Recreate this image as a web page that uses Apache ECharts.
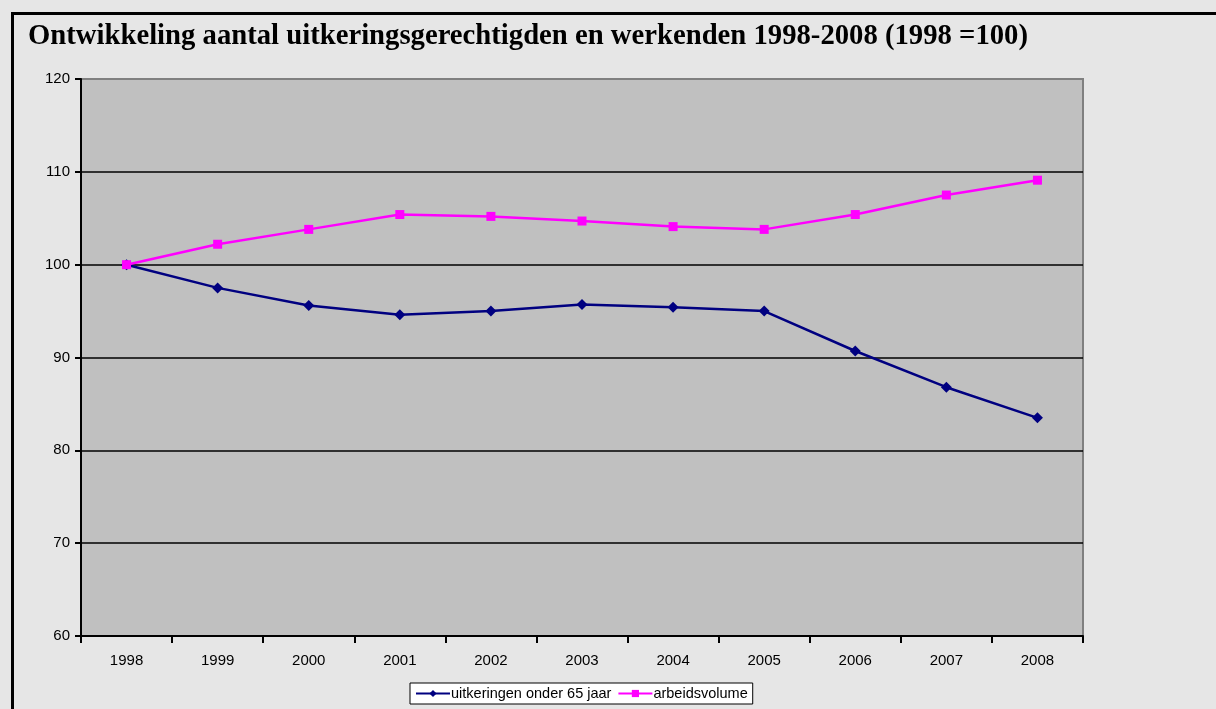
<!DOCTYPE html>
<html style="height: 100%">
<head>
	<meta charset="utf-8">
	<script src="https://cdn.jsdelivr.net/npm/echarts@6/dist/echarts.min.js"></script>
	<style>
		body { margin: 0; background: #e6e6e6; }
		#chart { width: 1216px; height: 709px; }
	</style>
</head>
<body>
	<div id="chart"></div>
	<script>
		// jaren en indexcijfers (1998 = 100)
		var years = ['1998', '1999', '2000', '2001', '2002', '2003', '2004', '2005', '2006', '2007', '2008'];
		var uitkeringen = [100, 97.5, 95.6, 94.6, 95.0, 95.7, 95.4, 95.0, 90.7, 86.8, 83.5];
		var arbeidsvolume = [100, 102.2, 103.8, 105.4, 105.2, 104.7, 104.1, 103.8, 105.4, 107.5, 109.1];
		var titleText = 'Ontwikkeling aantal uitkeringsgerechtigden en werkenden 1998-2008 (1998 =100)';

		var myChart = echarts.init(document.getElementById('chart'));

		var option = {
			backgroundColor: '#e6e6e6',
			animation: false,
			title: {
				text: titleText,
				left: 23,
				top: 17,
				textStyle: {
					fontFamily: 'Liberation Serif',
					fontWeight: 'bold',
					fontSize: 28.7,
					color: '#000'
				}
			},
			graphic: [{
				type: 'rect',
				left: 10,
				top: 11,
				shape: { width: 1230, height: 720 },
				style: { fill: 'none', stroke: '#000', lineWidth: 3 },
				silent: true
			}],
			legend: {
				bottom: 5,
				left: 410,
				backgroundColor: '#fff',
				borderColor: '#000',
				borderWidth: 1,
				padding: [3, 5],
				itemGap: 6,
				itemWidth: 34,
				itemHeight: 9,
				textStyle: { fontFamily: 'Liberation Sans', fontSize: 14.5, color: '#000', padding: [0, 0, 0, -4] },
				data: ['uitkeringen onder 65 jaar', 'arbeidsvolume']
			},
			grid: {
				left: 81,
				right: 133,
				top: 79,
				bottom: 73,
				show: true,
				backgroundColor: '#c0c0c0',
				borderColor: '#808080',
				borderWidth: 2
			},
			xAxis: {
				type: 'category',
				data: years,
				boundaryGap: true,
				axisLine: { lineStyle: { color: '#000', width: 2 } },
				axisTick: { show: true, length: 7, lineStyle: { color: '#000', width: 2 } },
				axisLabel: { fontFamily: 'Liberation Sans', fontSize: 15, color: '#000', margin: 17 }
			},
			yAxis: {
				type: 'value',
				min: 60,
				max: 120,
				interval: 10,
				axisLine: { show: true, lineStyle: { color: '#000', width: 2 } },
				axisTick: { show: true, length: 6, lineStyle: { color: '#000', width: 2 } },
				axisLabel: { fontFamily: 'Liberation Sans', fontSize: 15, color: '#000', margin: 11 },
				splitLine: {
					show: true,
					lineStyle: {
						color: ['#000', '#000', '#000', '#000', '#000', '#000', '#808080'],
						width: 1.5
					}
				}
			},
			series: [{
				name: 'uitkeringen onder 65 jaar',
				type: 'line',
				data: uitkeringen,
				symbol: 'diamond',
				symbolSize: 11,
				itemStyle: { color: '#000080' },
				lineStyle: { color: '#000080', width: 2.5 },
				z: 3
			}, {
				name: 'arbeidsvolume',
				type: 'line',
				data: arbeidsvolume,
				symbol: 'rect',
				symbolSize: 9,
				itemStyle: { color: '#ff00ff' },
				lineStyle: { color: '#ff00ff', width: 2.5 },
				z: 4
			}]
		};

		myChart.setOption(option);
	</script>
</body>
</html>
